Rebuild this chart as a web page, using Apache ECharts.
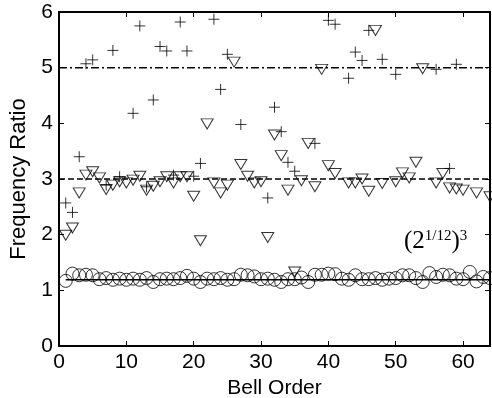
<!DOCTYPE html>
<html>
<head>
<meta charset="utf-8">
<script src="https://cdn.jsdelivr.net/npm/echarts@6/dist/echarts.min.js"></script>
<style>
  html, body { margin: 0; padding: 0; background: #fff; }
  #chart { width: 492px; height: 398px; }
</style>
</head>
<body>
<div id="chart"></div>
<script>
// bell order 1..64, null = no visible marker
const circleRatio = [
  1.17, 1.30, 1.27, 1.28, 1.27, 1.20, 1.22, 1.19, 1.21, 1.19,
  1.21, 1.19, 1.22, 1.15, 1.20, 1.21, 1.20, 1.22, 1.26, 1.21,
  1.15, 1.21, 1.20, 1.22, 1.19, 1.20, 1.28, 1.27, 1.25, 1.20,
  1.21, 1.19, 1.15, 1.20, 1.20, 1.23, 1.15, 1.28, 1.28, 1.30,
  1.29, 1.21, 1.19, 1.27, 1.20, 1.20, 1.22, 1.19, 1.21, 1.22,
  1.27, 1.27, 1.22, 1.15, 1.31, 1.24, 1.28, 1.27, 1.21, 1.20,
  1.33, 1.16, 1.24, 1.22
]
const triangleRatio = [
  1.99, 2.12, 2.75, 3.07, 3.13, 3.02, 2.81, 2.89, 2.95, 2.93,
  2.98, 3.05, 2.80, 2.87, 2.95, 3.04, 2.93, 3.04, 3.04, 2.69,
  1.89, 3.99, 2.93, 2.75, 2.89, 5.10, 3.26, 3.05, 2.93, 2.95,
  1.95, 3.79, 3.42, 2.80, 1.33, 2.97, 3.64, 2.86, 4.97, 3.24,
  3.10, null, 2.93, 2.93, 3.00, 2.78, 5.67, 2.92, null, 2.95,
  3.11, 3.02, 3.30, 4.98, null, 2.93, 3.10, 2.84, 2.82, 2.80,
  null, 2.75, null, 2.68
]
const plusRatio = [
  2.57, 2.40, 3.40, 5.07, 5.14, null, 2.89, 5.31, 3.04, null,
  4.18, 5.75, 2.86, 4.42, 5.38, 5.30, 3.07, 5.82, 5.30, 3.05,
  3.28, null, 5.87, 4.61, 5.24, null, 3.98, null, null, null,
  2.66, 4.29, 3.85, 3.30, 3.14, null, null, 3.64, null, 5.85,
  5.78, null, 4.81, 5.28, 5.13, 5.67, null, 5.15, null, 4.88,
  null, null, null, null, null, 4.97, null, 3.19, 5.06, null,
  null, null, null, null
]
const minorThird = Math.pow(Math.pow(2, 1 / 12), 3)
const refLevels = [minorThird, 3, 5]
const xTicks = [0, 64, 10]
const yTicks = [0, 6, 1]

const toPoints = arr => arr.map((v, i) => (v == null ? null : [i + 1, v])).filter(p => p)

const font = 'Liberation Sans, Arial, sans-serif'
const serif = 'Liberation Serif, Times New Roman, serif'
const axisBase = {
  axisLine: { show: true, onZero: false, lineStyle: { color: '#000', width: 2 } },
  axisTick: { inside: true, length: 5, lineStyle: { color: '#000', width: 1 } },
  splitLine: { show: false }
}
const hollow = { color: 'transparent', borderColor: '#000', borderWidth: 1 }

const chart = echarts.init(document.getElementById('chart'))
chart.setOption({
  animation: false,
  backgroundColor: '#fff',
  grid: { left: 59, right: 2, top: 12, bottom: 52, outerBoundsMode: 'none' },
  xAxis: [{
    ...axisBase,
    type: 'value', min: xTicks[0], max: xTicks[1], interval: xTicks[2],
    name: 'Bell Order', nameLocation: 'middle', nameGap: 23,
    nameTextStyle: { color: '#000', fontSize: 21, fontFamily: font },
    axisLabel: { color: '#000', fontSize: 21, fontFamily: font, margin: 6, showMaxLabel: false }
  }, {
    ...axisBase,
    type: 'value', position: 'top', min: xTicks[0], max: xTicks[1], interval: xTicks[2],
    axisLabel: { show: false }
  }],
  yAxis: [{
    ...axisBase,
    type: 'value', min: yTicks[0], max: yTicks[1], interval: yTicks[2],
    name: 'Frequency Ratio', nameLocation: 'middle', nameGap: 26,
    nameTextStyle: { color: '#000', fontSize: 22, fontFamily: font },
    axisLabel: { color: '#000', fontSize: 21, fontFamily: font, margin: 6 }
  }, {
    ...axisBase,
    type: 'value', position: 'right', min: yTicks[0], max: yTicks[1], interval: yTicks[2],
    axisLabel: { show: false }
  }],
  series: [
    {
      type: 'line', symbol: 'none',
      data: [[1, refLevels[0]], [64, refLevels[0]]],
      lineStyle: { color: '#000', width: 1.5, type: 'solid' }
    },
    {
      type: 'line', symbol: 'none',
      data: [[0, refLevels[1]], [64, refLevels[1]]],
      lineStyle: { color: '#000', width: 1.5, type: [6, 3] }
    },
    {
      type: 'line', symbol: 'none',
      data: [[0, refLevels[2]], [64, refLevels[2]]],
      lineStyle: { color: '#000', width: 1.5, type: [8, 3, 2, 3] }
    },
    {
      type: 'scatter', symbol: 'circle', symbolSize: 13,
      data: toPoints(circleRatio), itemStyle: hollow
    },
    {
      type: 'scatter', symbol: 'path://M0,0 L12,0 L6,10 Z', symbolSize: [12, 10],
      data: toPoints(triangleRatio), itemStyle: hollow
    },
    {
      type: 'scatter', symbol: 'path://M5,0 L5,10 M0,5 L10,5', symbolSize: 11,
      data: toPoints(plusRatio), itemStyle: hollow
    }
  ],
  graphic: [{
    type: 'text', left: 404, top: 229,
    style: {
      text: '{p|(2}{s|1/12}{p|)}{s|3}',
      rich: {
        p: { fontSize: 25, fontFamily: serif, fill: '#000' },
        s: { fontSize: 15, fontFamily: serif, fill: '#000', verticalAlign: 'top' }
      }
    }
  }]
})
</script>
</body>
</html>
